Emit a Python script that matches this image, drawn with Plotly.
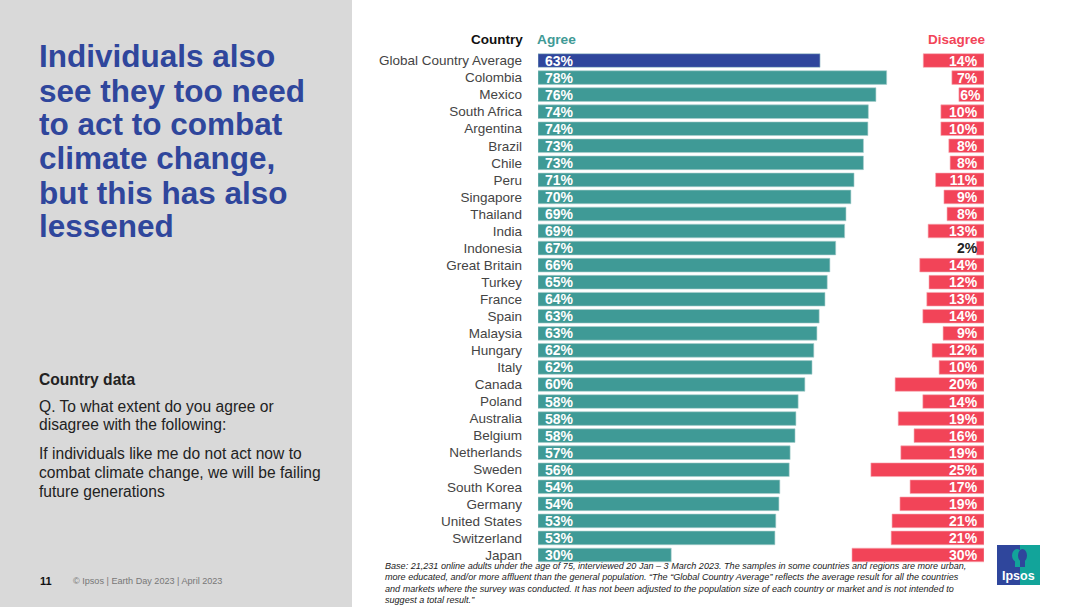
import plotly.graph_objects as go

countries = ['Global Country Average', 'Colombia', 'Mexico', 'South Africa', 'Argentina', 'Brazil', 'Chile',
             'Peru', 'Singapore', 'Thailand', 'India', 'Indonesia', 'Great Britain', 'Turkey', 'France', 'Spain',
             'Malaysia', 'Hungary', 'Italy', 'Canada', 'Poland', 'Australia', 'Belgium', 'Netherlands', 'Sweden',
             'South Korea', 'Germany', 'United States', 'Switzerland', 'Japan']

# bar lengths, labels as printed on the bars
agree = [63.1, 78.0, 75.6, 73.9, 73.8, 72.8, 72.8, 70.7, 70.0, 68.9, 68.6, 66.6, 65.3, 64.7, 64.2, 62.9,
         62.4, 61.7, 61.3, 59.7, 58.2, 57.7, 57.5, 56.4, 56.2, 54.1, 53.9, 53.2, 53.0, 29.8]
agree_labels = [63, 78, 76, 74, 74, 73, 73, 71, 70, 69, 69, 67, 66, 65, 64, 63,
                63, 62, 62, 60, 58, 58, 58, 57, 56, 54, 54, 53, 53, 30]
disagree = [13.8, 7.3, 5.7, 9.8, 9.8, 8.0, 7.7, 11.0, 9.1, 8.4, 12.7, 1.7, 14.6, 12.5, 13.0, 13.9,
            9.3, 11.8, 10.2, 20.2, 13.9, 19.5, 15.9, 18.9, 25.7, 16.8, 19.1, 20.9, 21.1, 30.0]
disagree_labels = [14, 7, 6, 10, 10, 8, 8, 11, 9, 8, 13, 2, 14, 12, 13, 14,
                   9, 12, 10, 20, 14, 19, 16, 19, 25, 17, 19, 21, 21, 30]

title_lines = ['Individuals also', 'see they too need', 'to act to combat', 'climate change,',
               'but this has also', 'lessened']
question_lines = ['Q. To what extent do you agree or', 'disagree with the following:']
statement_lines = ['If individuals like me do not act now to', 'combat climate change, we will be failing',
                   'future generations']
base_lines = ['Base: 21,231 online adults under the age of 75, interviewed 20 Jan – 3 March 2023. The samples in some countries and regions are more urban,',
              'more educated, and/or more affluent than the general population. “The “Global Country Average” reflects the average result for all the countries',
              'and markets where the survey was conducted. It has not been adjusted to the population size of each country or market and is not intended to',
              'suggest a total result.”']

W = 1080
H = 607
BLUE = '#2F469C'
TEAL = '#3F9A96'
RED = '#F24458'
FONT = 'Liberation Sans'


def px(x):
    return x / W


def py(y):
    return 1 - y / H


annotations = []


def add_text(x, y, text, size, color='#333333', anchor='left', bold=False, italic=False):
    if bold:
        text = '<b>' + text + '</b>'
    if italic:
        text = '<i>' + text + '</i>'
    annotations.append(dict(x=px(x), y=py(y), xref='paper', yref='paper', text=text, showarrow=False,
                            xanchor=anchor, yanchor='middle', align=anchor,
                            font=dict(family=FONT, size=size, color=color)))


for i, line in enumerate(title_lines):
    add_text(37, 56.5 + i * 34, line, 31.5, BLUE, bold=True)

add_text(37, 379, 'Country data', 15.6, '#222222', bold=True)
add_text(37, 406, question_lines[0], 15.6, '#222222')
add_text(37, 424, question_lines[1], 15.6, '#222222')
add_text(37, 453, statement_lines[0], 15.6, '#222222')
add_text(37, 472, statement_lines[1], 15.6, '#222222')
add_text(37, 491, statement_lines[2], 15.6, '#222222')
add_text(38, 581, '11', 11, '#111111', bold=True)
add_text(71, 581, '© Ipsos | Earth Day 2023 | April 2023', 9.1, '#777777')

add_text(525, 40, 'Country', 13.5, '#111111', anchor='right', bold=True)
add_text(535, 40, 'Agree', 13.7, TEAL, bold=True)
add_text(988, 40, 'Disagree', 13.5, RED, anchor='right', bold=True)

for i, line in enumerate(base_lines):
    add_text(383, 566 + i * 11.4, line, 9.07, '#222222', italic=True)

add_text(1018.5, 576, 'Ipsos', 12.5, 'white', anchor='center', bold=True)

shapes = [
    dict(type='rect', xref='paper', yref='paper', x0=0, x1=px(352), y0=0, y1=1,
         fillcolor='#D9D9D9', line_width=0, layer='below'),
    # logo
    dict(type='rect', xref='paper', yref='paper', x0=px(997), x1=px(1020), y0=py(585), y1=py(545),
         fillcolor=BLUE, line_width=0),
    dict(type='rect', xref='paper', yref='paper', x0=px(1020), x1=px(1040), y0=py(585), y1=py(545),
         fillcolor='#12A49A', line_width=0),
    dict(type='circle', xref='paper', yref='paper', x0=px(1012), x1=px(1022), y0=py(562), y1=py(549),
         fillcolor='#12A49A', line_width=0),
    dict(type='rect', xref='paper', yref='paper', x0=px(1015), x1=px(1020), y0=py(567), y1=py(560),
         fillcolor='#12A49A', line_width=0),
    dict(type='circle', xref='paper', yref='paper', x0=px(1018), x1=px(1027), y0=py(562), y1=py(549),
         fillcolor=BLUE, line_width=0),
    dict(type='rect', xref='paper', yref='paper', x0=px(1020), x1=px(1025), y0=py(567), y1=py(560),
         fillcolor=BLUE, line_width=0),
]

agree_colors = [BLUE] + [TEAL] * (len(countries) - 1)
agree_text = ['\u00a0' + str(v) + '%' for v in agree_labels]
# the 6% label sits further right in the original, the others keep a small gap
disagree_text = [str(v) + '%' if v == 6 else str(v) + '%\u00a0' for v in disagree_labels]
disagree_font = ['#222222' if v < 3 else 'white' for v in disagree_labels]

fig = go.Figure()
fig.add_trace(go.Bar(y=countries, x=agree, orientation='h', xaxis='x', yaxis='y',
                     marker=dict(color=agree_colors, line=dict(color='#A9CFCD', width=0.6)),
                     text=agree_text, textposition='inside', insidetextanchor='start',
                     textangle=0, constraintext='none', cliponaxis=False,
                     textfont=dict(family=FONT, size=14, color='white', weight='bold'),
                     hoverinfo='skip', showlegend=False))
fig.add_trace(go.Bar(y=countries, x=disagree, orientation='h', xaxis='x2', yaxis='y',
                     marker=dict(color=RED, line=dict(color='#F7A9B2', width=0.6)),
                     text=disagree_text, textposition='inside', insidetextanchor='start',
                     textangle=0, constraintext='none', cliponaxis=False,
                     textfont=dict(family=FONT, size=14, color=disagree_font, weight='bold'),
                     hoverinfo='skip', showlegend=False))

fig.update_layout(
    width=W, height=H,
    margin=dict(l=0, r=0, t=0, b=0),
    paper_bgcolor='white', plot_bgcolor='rgba(0,0,0,0)',
    bargap=0.2,
    annotations=annotations,
    shapes=shapes,
    xaxis=dict(domain=[px(538), px(900)], range=[0, 362 / 4.47], visible=False, fixedrange=True),
    xaxis2=dict(domain=[px(840), px(984)], range=[144 / 4.4, 0], visible=False, fixedrange=True),
    yaxis=dict(domain=[py(563.5), py(52)], autorange='reversed', type='category',
               categoryorder='array', categoryarray=countries, anchor='x',
               showgrid=False, showline=False, zeroline=False, ticks='',
               ticklabelstandoff=15,
               tickfont=dict(family=FONT, size=13.5, color='#444444')),
)

# page body has a default margin, drop it so the figure fills the window
fig.write_html('out.html', config=dict(displayModeBar=False), post_script="document.body.style.margin='0';")
